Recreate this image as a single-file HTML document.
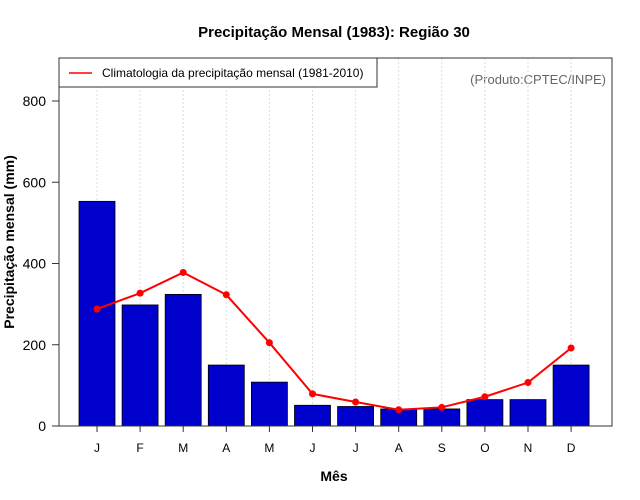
<!DOCTYPE html>
<html><head><meta charset="utf-8"><style>body{margin:0;background:#fff}svg{display:block;font-family:"Liberation Sans",sans-serif}</style></head>
<body>
<svg id="chart" width="640" height="500" viewBox="0 0 640 500">
<rect width="640" height="500" fill="#fff"/>
<text x="334" y="37" text-anchor="middle" font-size="15" font-weight="bold">Precipitação Mensal (1983): Região 30</text>
<text transform="translate(14,242) rotate(-90)" text-anchor="middle" font-size="14" font-weight="bold">Precipitação mensal (mm)</text>
<text x="334" y="481" text-anchor="middle" font-size="14" font-weight="bold">Mês</text>
<text x="606" y="84" text-anchor="end" font-size="13" fill="#666">(Produto:CPTEC/INPE)</text>
<g id="grid"></g><g id="bars"></g><g id="line"></g><g id="axes"></g>
<rect x="59" y="58" width="553" height="368" fill="none" stroke="#333" stroke-width="1"/>
<g>
<rect x="59" y="58" width="318" height="29" fill="#fff" stroke="#333"/>
<line x1="69" y1="73" x2="92" y2="73" stroke="red" stroke-width="1.5"/>
<text x="102" y="77" font-size="12">Climatologia da precipitação mensal (1981-2010)</text>
</g>
</svg>
<script>
const months=["J","F","M","A","M","J","J","A","S","O","N","D"];
const precip1983=[553,298,324,150,108,51,48,42,42,65,65,150];
const climatology=[288,327,378,323,205,79,59,40,46,72,107,192];
const yTicks=[0,200,400,600,800];
const NS="http://www.w3.org/2000/svg";
const x=i=>97+i*43.1;
const y=v=>426-v*0.40625;
function mk(tag,attrs,parent,txt){const e=document.createElementNS(NS,tag);for(const k in attrs)e.setAttribute(k,attrs[k]);if(txt!=null)e.textContent=txt;document.getElementById(parent).appendChild(e);return e;}
months.forEach((m,i)=>{
 const g=mk("line",{x1:x(i),x2:x(i),y1:58,y2:426,stroke:"#ddd","stroke-dasharray":"2,2"},"grid");
 
 
 const b=mk("rect",{x:x(i)-18,y:y(precip1983[i]),width:36,height:426-y(precip1983[i]),fill:"#0000cc",stroke:"#000","stroke-width":0.8},"bars");
 
 
 const t=mk("line",{x1:x(i),x2:x(i),y1:426,y2:432,stroke:"#333"},"axes");
 
 
 const l=mk("text",{x:x(i),y:452,"text-anchor":"middle","font-size":12},"axes",m);
 
 
});
const pl=mk("polyline",{points:climatology.map((v,i)=>x(i)+","+y(v)).join(" "),fill:"none",stroke:"red","stroke-width":2},"line");


climatology.forEach((v,i)=>{
 const c=mk("circle",{cx:x(i),cy:y(v),r:3.5,fill:"red"},"line");
 
 
});
yTicks.forEach(v=>{
 const t=mk("line",{x1:52,x2:59,y1:y(v),y2:y(v),stroke:"#333"},"axes");
 
 
 const l=mk("text",{x:46,y:y(v)+5,"text-anchor":"end","font-size":14},"axes",v);
 
 
});
</script>
</body></html>
